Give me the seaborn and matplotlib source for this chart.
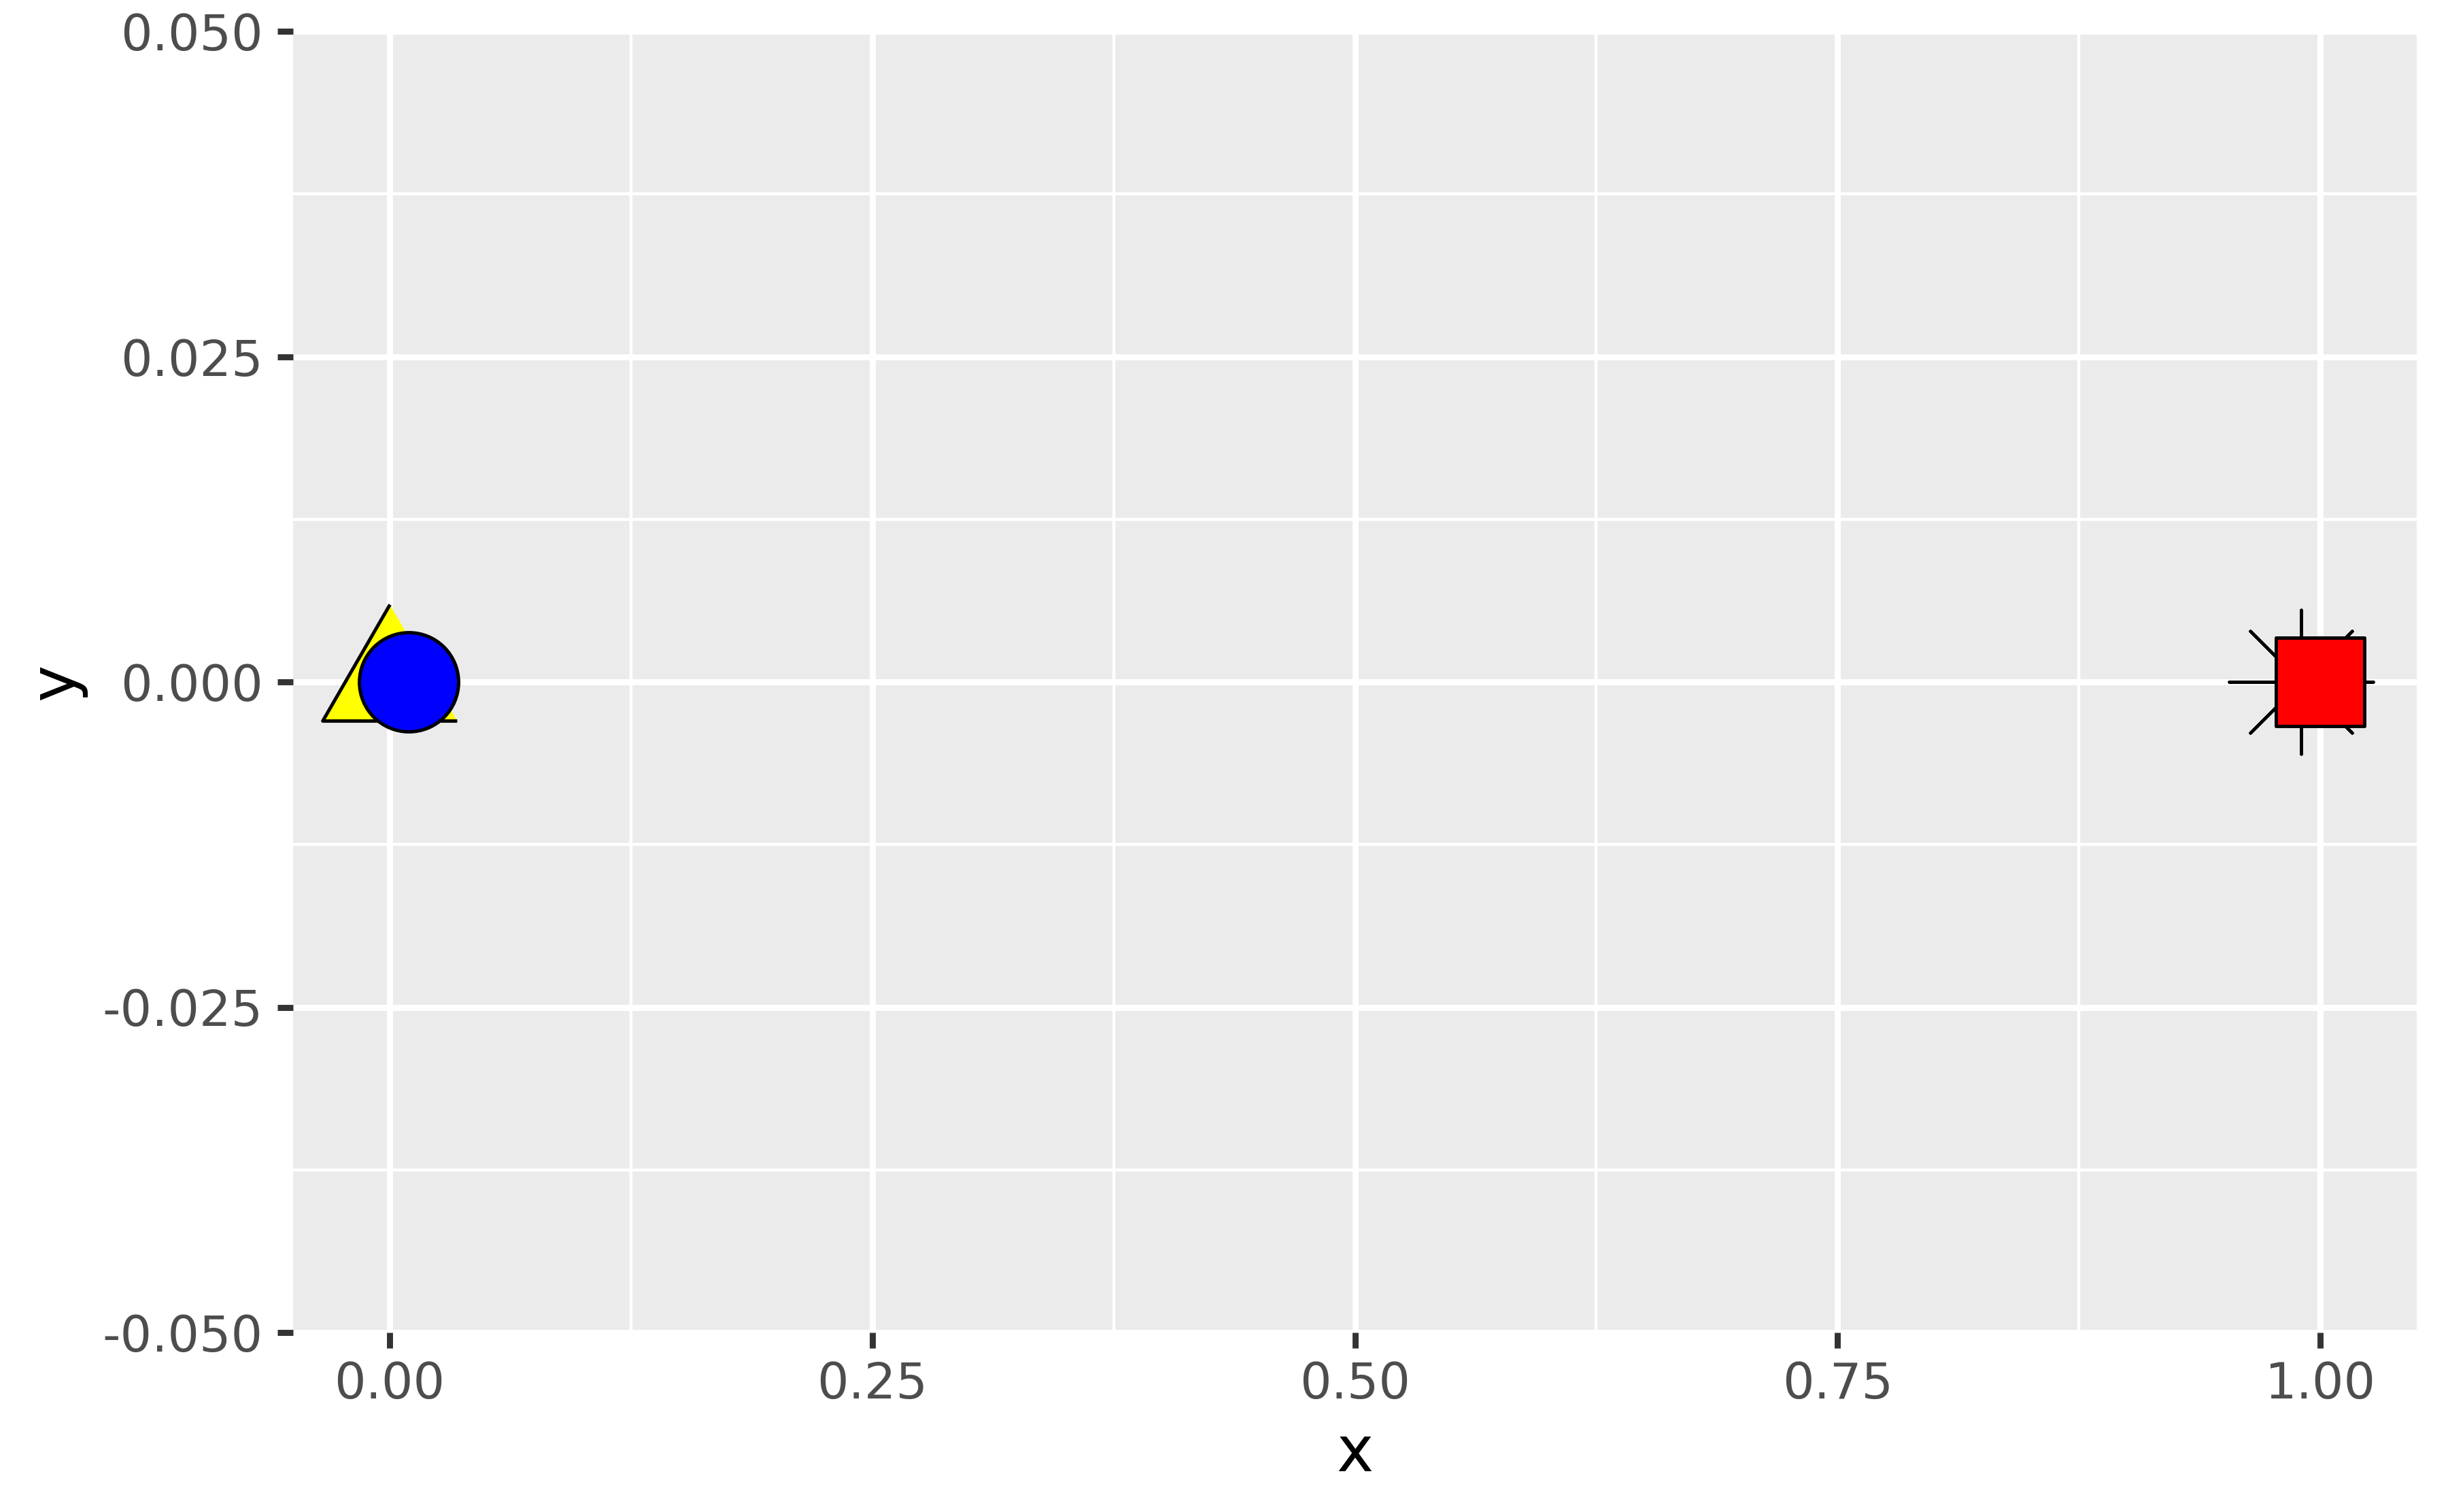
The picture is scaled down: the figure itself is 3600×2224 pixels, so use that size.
import numpy as np
import pandas as pd
import seaborn as sns
import matplotlib.pyplot as plt

# points, drawn in this order
shape = ['triangle', 'circle', 'asterisk', 'square']
x = [0.00, 0.01, 0.99, 1.00]
y = [0.0, 0.0, 0.0, 0.0]
fill = ['#FFFF00', '#0000FF', 'black', '#FF0000']

x_ticks = [0.0, 0.25, 0.5, 0.75, 1.0]
x_labels = ['0.00', '0.25', '0.50', '0.75', '1.00']
x_minor = [0.125, 0.375, 0.625, 0.875]
y_ticks = [-0.05, -0.025, 0.0, 0.025, 0.05]
y_labels = ['-0.050', '-0.025', '0.000', '0.025', '0.050']
y_minor = [-0.0375, -0.0125, 0.0125, 0.0375]

df = pd.DataFrame({'x': x, 'y': y, 'shape': shape, 'fill': fill})

sns.set_style('white')
plt.rcParams['font.family'] = ['DejaVu Sans']

# equilateral triangle centred on its centroid
h = np.sqrt(3) / 2
tri = [(0, 2 * h / 3), (-0.5, -h / 3), (0.5, -h / 3)]
marker_style = {
    'triangle': (tri, 27.4, 0.6),
    'circle': ('o', 17.5, 0.6),
    'asterisk': ((8, 2, 0), 25.4, 0.55),
    'square': ('s', 15.6, 0.6),
}

figure = plt.figure(figsize=(6, 2224 / 600), dpi=600)
axis = figure.add_axes([431 / 3600, 1 - 1960 / 2224, (3554 - 431) / 3600, (1960 - 46) / 2224])
axis.set_facecolor('#EBEBEB')
axis.set_axisbelow(True)

for i, row in df.iterrows():
    m, ms, lw = marker_style[row['shape']]
    if row['shape'] == 'asterisk':
        sns.scatterplot(data=df.iloc[[i]], x='x', y='y', marker=m, s=ms ** 2,
                        color=row['fill'], linewidth=lw, ax=axis, legend=False)
    else:
        sns.scatterplot(data=df.iloc[[i]], x='x', y='y', marker=m, s=ms ** 2,
                        color=row['fill'], edgecolor='black', linewidth=lw,
                        ax=axis, legend=False)

axis.set_xlim(-0.05, 1.05)
axis.set_ylim(-0.05, 0.05)
axis.set_xticks(x_ticks)
axis.set_xticklabels(x_labels)
axis.set_yticks(y_ticks)
axis.set_yticklabels(y_labels)
axis.set_xticks(x_minor, minor=True)
axis.set_yticks(y_minor, minor=True)

axis.grid(which='major', color='white', linewidth=1.07)
axis.grid(which='minor', color='white', linewidth=0.53)
axis.tick_params(which='major', bottom=True, left=True, length=2.75, width=1.07,
                 color='#333333', labelsize=8.8, labelcolor='#4D4D4D', pad=2.2)
axis.tick_params(axis='y', pad=2.6)
axis.tick_params(which='minor', bottom=False, left=False, length=0)
for s in axis.spines.values():
    s.set_visible(False)

axis.set_xlabel('x', fontsize=11, color='black', labelpad=2.5)
axis.set_ylabel('y', fontsize=11, color='black', labelpad=2.75)

figure.savefig('out.png', dpi=600)
